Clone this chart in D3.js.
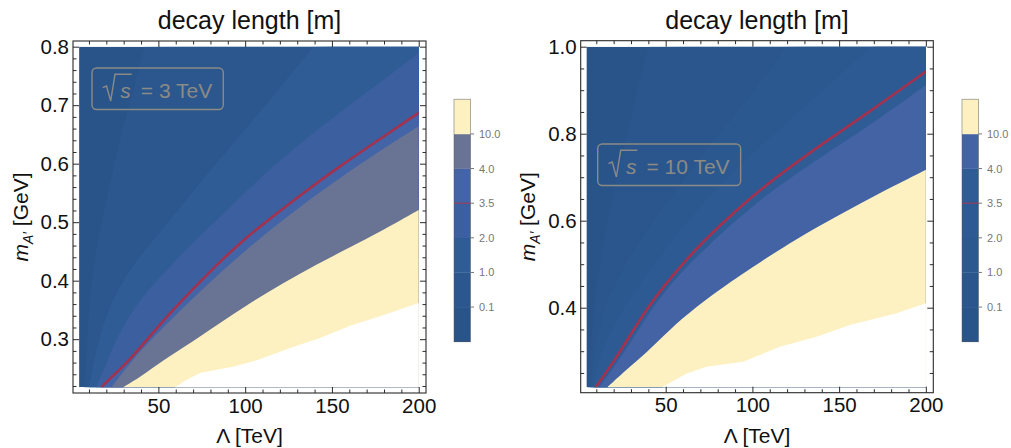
<!DOCTYPE html>
<html><head><meta charset="utf-8">
<script src="https://cdn.jsdelivr.net/npm/d3@7"></script>
<style>
body{margin:0;background:#fff}
svg{display:block}
text{font-family:"Liberation Sans",Arial,Helvetica,sans-serif}
</style>
</head><body>
<svg id="c" width="1011" height="448"></svg>
<script>
// ---------------- data ----------------
const levelLabels = ["0.1","1.0","2.0","3.5","4.0","10.0"];
const titleText = "decay length [m]";
const xLabelText = "Λ [TeV]";
const xTicks = [50,100,150,200];
const leftYTicks = [0.3,0.4,0.5,0.6,0.7,0.8];
const rightYTicks = [0.4,0.6,0.8,1.0];
const leftEnergy = "3 TeV";
const rightEnergy = "10 TeV";

// region colours, from lowest decay length (<0.1) to highest (>10)
const colorsLeft  = ["#29548a","#2b578e","#2f5c95","#3b5f9f","#4364a6","#697394","#fef1c1"];
const colorsRight = ["#29548a","#2a568d","#2c5890","#2e5a93","#305c96","#4363a5","#fef1c1"];

// contour boundaries [Lambda (TeV), m_A' (GeV)] -- sqrt(s) = 3 TeV
const left_b01 = [[7.5,0.218],[9.5,0.33],[12,0.42],[18,0.51],[26,0.62],[34,0.71],[42,0.80]];
const left_b1  = [[10,0.218],[14,0.28],[20,0.345],[32,0.415],[45,0.462],[60,0.515],[80,0.59],[103,0.668],[120,0.73],[139.5,0.80]];
const left_b2  = [[14,0.218],[19,0.25],[25,0.295],[33,0.34],[43,0.38],[54.5,0.418],[70,0.465],[84,0.505],[103,0.56],[130,0.632],[160,0.70],[185,0.755],[200,0.79]];
const left_red = [[17.5,0.218],[18.5,0.223],[29.7,0.2525],[43.5,0.299],[56.7,0.345],[72.3,0.393],[87.3,0.438],[102.8,0.479],[110.5,0.497],[131.6,0.546],[154.7,0.596],[177.7,0.642],[200,0.687]];
const left_b4  = [[23,0.218],[35,0.265],[50,0.312],[75,0.385],[100,0.452],[125,0.512],[150,0.566],[175,0.617],[200,0.664]];
const left_b10 = [[29.7,0.218],[39.5,0.235],[52.7,0.264],[68.3,0.293],[85.5,0.328],[102.8,0.362],[121.8,0.396],[141.4,0.428],[160.4,0.457],[179.4,0.486],[200,0.521]];
const left_edge= [[59.6,0.218],[65.4,0.229],[74,0.242],[93,0.253],[106.9,0.264],[125.9,0.285],[143.2,0.302],[160.5,0.323],[179.5,0.341],[200,0.362]];

// contour boundaries -- sqrt(s) = 10 TeV
const right_b01 = [[5,0.218],[7,0.33],[10,0.45],[15,0.57],[22,0.70],[30,0.84],[40,1.0]];
const right_b1  = [[6.5,0.218],[9,0.30],[13,0.38],[19.4,0.445],[29,0.515],[38.6,0.575],[52,0.648],[73,0.762],[98,0.882],[120,1.0]];
const right_b2  = [[8,0.218],[12,0.29],[19.4,0.354],[29,0.42],[38.6,0.474],[61.7,0.597],[84.8,0.698],[111.7,0.798],[138.5,0.89],[168,1.0]];
const right_red = [[9.8,0.218],[19.4,0.272],[29,0.333],[38.6,0.395],[50.2,0.456],[61.7,0.51],[73.2,0.558],[84.8,0.602],[98.2,0.65],[111.7,0.694],[138.5,0.772],[167.4,0.85],[200,0.943]];
const right_b4  = [[11.7,0.218],[20,0.262],[30,0.322],[40,0.385],[50,0.44],[62,0.494],[75,0.544],[85,0.582],[100,0.632],[112,0.671],[140,0.748],[168,0.82],[200,0.912]];
const right_b10 = [[16.6,0.218],[27.1,0.257],[38.6,0.295],[52.1,0.349],[67.5,0.402],[84.8,0.452],[100,0.493],[125,0.558],[150.1,0.613],[175,0.667],[200,0.717]];
const right_edge= [[48.4,0.218],[62.1,0.249],[73.6,0.264],[94.7,0.276],[115.9,0.31],[137,0.333],[156.2,0.36],[183.2,0.387],[200,0.41]];

const LAMBDA_MIN = 4.3, LAMBDA_MAX = 200;

// ---------------- drawing ----------------
const svg = d3.select("#c");
const FONT = '"Liberation Sans",Arial,Helvetica,sans-serif';

function drawPanel(cfg){
  const g = svg.append("g");
  const x = d3.scaleLinear().domain(cfg.xDomain).range([cfg.l, cfg.r]);
  const y = d3.scaleLinear().domain(cfg.yDomain).range([cfg.b, cfg.t]);
  const clipId = "clip" + cfg.id;
  g.append("clipPath").attr("id", clipId).append("rect")
    .attr("x", x(LAMBDA_MIN)).attr("y", y(cfg.mTop))
    .attr("width", x(LAMBDA_MAX) - x(LAMBDA_MIN))
    .attr("height", y(cfg.mMin) - y(cfg.mTop));
  const plot = g.append("g").attr("clip-path", `url(#${clipId})`);
  plot.append("rect")
    .attr("x", x(LAMBDA_MIN)).attr("y", y(cfg.mTop))
    .attr("width", x(LAMBDA_MAX) - x(LAMBDA_MIN))
    .attr("height", y(cfg.mMin) - y(cfg.mTop))
    .attr("fill", cfg.colors[0]);

  const smooth = d3.line().x(d => x(d[0])).y(d => y(d[1])).curve(d3.curveBasis);
  const straight = d3.line().x(d => x(d[0])).y(d => y(d[1]));
  const xR = x(LAMBDA_MAX) + 5, yT = y(cfg.mTop) - 5, yB = y(cfg.mMin) + 5;

  function regionPath(pts, lineGen){
    const first = pts[0], last = pts[pts.length - 1];
    const endsTop = last[1] >= cfg.mTop - 1e-9 && last[0] < LAMBDA_MAX;
    return lineGen(pts) +
      `L${xR},${endsTop ? yT : y(last[1])}L${xR},${yB}L${x(first[0])},${yB}Z`;
  }

  cfg.bounds.forEach((b, i) => {
    plot.append("path").attr("d", regionPath(b, smooth)).attr("fill", cfg.colors[i + 1]);
  });
  plot.append("path").attr("d", regionPath(cfg.edge, straight)).attr("fill", "#ffffff");
  plot.append("path").attr("d", smooth(cfg.red))
    .attr("fill", "none").attr("stroke", "#a3324f").attr("stroke-width", 2.6)
    .attr("stroke-linecap", "round");

  // frame
  g.append("rect").attr("x", cfg.l).attr("y", cfg.t)
    .attr("width", cfg.r - cfg.l).attr("height", cfg.b - cfg.t)
    .attr("fill", "none").attr("stroke", "#2a2a2a").attr("stroke-width", 1.1);

  const xMinor = d3.range(10, 201, 10).filter(v => v % 50 !== 0);
  const yMinor = cfg.yMinor;
  const styleAxis = sel => {
    sel.select(".domain").remove();
    sel.selectAll("line").attr("stroke", "#2a2a2a").attr("stroke-width", 1);
    sel.selectAll("text").attr("font-family", FONT).attr("font-size", 20.5).attr("fill", "#111");
  };
  // major ticks
  g.append("g").attr("transform", `translate(0,${cfg.b})`)
    .call(d3.axisBottom(x).tickValues(xTicks).tickSize(-6).tickPadding(5).tickFormat(d3.format("d")))
    .call(styleAxis);
  g.append("g").attr("transform", `translate(0,${cfg.t})`)
    .call(d3.axisTop(x).tickValues(xTicks).tickSize(-6).tickFormat(""))
    .call(styleAxis);
  g.append("g").attr("transform", `translate(${cfg.l},0)`)
    .call(d3.axisLeft(y).tickValues(cfg.yTicks).tickSize(-6).tickPadding(4).tickFormat(d3.format(".1f")))
    .call(styleAxis);
  g.append("g").attr("transform", `translate(${cfg.r},0)`)
    .call(d3.axisRight(y).tickValues(cfg.yTicks).tickSize(-6).tickFormat(""))
    .call(styleAxis);
  // minor ticks
  g.append("g").attr("transform", `translate(0,${cfg.b})`)
    .call(d3.axisBottom(x).tickValues(xMinor).tickSize(-3.5).tickFormat("")).call(styleAxis);
  g.append("g").attr("transform", `translate(0,${cfg.t})`)
    .call(d3.axisTop(x).tickValues(xMinor).tickSize(-3.5).tickFormat("")).call(styleAxis);
  g.append("g").attr("transform", `translate(${cfg.l},0)`)
    .call(d3.axisLeft(y).tickValues(yMinor).tickSize(-3.5).tickFormat("")).call(styleAxis);
  g.append("g").attr("transform", `translate(${cfg.r},0)`)
    .call(d3.axisRight(y).tickValues(yMinor).tickSize(-3.5).tickFormat("")).call(styleAxis);

  const cx = (cfg.l + cfg.r) / 2;
  // title
  g.append("text").attr("x", cx).attr("y", 29).attr("text-anchor", "middle")
    .attr("font-size", 25).attr("fill", "#111").text(titleText);
  // x label
  g.append("text").attr("x", cx).attr("y", 443).attr("text-anchor", "middle")
    .attr("font-size", 21).attr("fill", "#111").text(xLabelText);
  // y label
  const yl = g.append("text")
    .attr("transform", `translate(${cfg.yLabelX},${(cfg.t + cfg.b) / 2}) rotate(-90)`)
    .attr("text-anchor", "middle").attr("font-size", 21).attr("fill", "#111");
  yl.append("tspan").attr("font-style", "italic").text("m");
  yl.append("tspan").attr("font-style", "italic").attr("font-size", 14).attr("dy", 5).text("A′");
  yl.append("tspan").attr("dy", -5).text(" [GeV]");

  // legend box
  const bx = cfg.legend[0], by = cfg.legend[1];
  const lg = g.append("g");
  const col = "#8b8a84";
  lg.append("path")
    .attr("d", `M${bx+10.7},${by+19.7}L${bx+14.5},${by+18}L${bx+18.7},${by+33}L${bx+23},${by+6.3}L${bx+39.7},${by+6.3}`)
    .attr("fill", "none").attr("stroke", col).attr("stroke-width", 1.4).attr("stroke-linejoin", "miter");
  lg.append("text").attr("x", bx + 28.2).attr("y", by + 29.7).attr("font-size", 21)
    .attr("font-style", "italic").attr("fill", col).text("s");
  const t = lg.append("text").attr("x", bx + 43).attr("y", by + 29.7).attr("font-size", 21)
    .attr("fill", col).style("white-space", "pre").text(" = " + cfg.energy);
  const tl = t.node().getComputedTextLength();
  lg.insert("rect", ":first-child").attr("x", bx).attr("y", by)
    .attr("width", 43 + tl + 11).attr("height", 41.5).attr("rx", 4.5)
    .attr("fill", "none").attr("stroke", col).attr("stroke-width", 1.4);

  // colorbar
  const cb = g.append("g");
  const cy = d3.scaleLinear().domain([0, 7]).range([341.7, 99.3]);
  cfg.colors.forEach((c, k) => {
    cb.append("rect").attr("x", cfg.cbX).attr("y", cy(k + 1))
      .attr("width", 16.5).attr("height", cy(k) - cy(k + 1) + 0.3).attr("fill", c);
  });
  cb.append("rect").attr("x", cfg.cbX).attr("y", cy(7)).attr("width", 16.5)
    .attr("height", cy(0) - cy(7)).attr("fill", "none")
    .attr("stroke", "#5a5a5a").attr("stroke-opacity", 0.55).attr("stroke-width", 0.9);
  cb.append("line").attr("x1", cfg.cbX).attr("x2", cfg.cbX + 16.5)
    .attr("y1", cy(4)).attr("y2", cy(4)).attr("stroke", "#a3324f").attr("stroke-width", 1);
  levelLabels.forEach((lab, k) => {
    const yy = cy(k + 1);
    cb.append("line").attr("x1", cfg.cbX + 16.5).attr("x2", cfg.cbX + 20)
      .attr("y1", yy).attr("y2", yy).attr("stroke", "#777").attr("stroke-width", 1);
    cb.append("text").attr("x", cfg.cbX + 25).attr("y", yy).attr("dy", "0.36em")
      .attr("font-size", 11).attr("fill", "#777").text(lab);
  });
}

const minorLeftY = d3.range(22, 80, 2).filter(v => v % 10 !== 0).map(v => v / 100);
const minorRightY = d3.range(25, 100, 5).filter(v => v % 20 !== 0).map(v => v / 100);

drawPanel({
  id: "L", l: 73, r: 426, t: 41, b: 393,
  xDomain: [0.8, 204.2], yDomain: [0.208, 0.8097],
  mMin: 0.218, mTop: 0.8,
  colors: colorsLeft,
  bounds: [left_b01, left_b1, left_b2, left_red, left_b4, left_b10],
  edge: left_edge, red: left_red,
  yTicks: leftYTicks, yMinor: minorLeftY,
  yLabelX: 28, legend: [92, 68], energy: leftEnergy, cbX: 454
});
drawPanel({
  id: "R", l: 580.7, r: 933.3, t: 40.7, b: 392.7,
  xDomain: [1.0, 204.3], yDomain: [0.2046, 1.0138],
  mMin: 0.217, mTop: 1.0,
  colors: colorsRight,
  bounds: [right_b01, right_b1, right_b2, right_red, right_b4, right_b10],
  edge: right_edge, red: right_red,
  yTicks: rightYTicks, yMinor: minorRightY,
  yLabelX: 535, legend: [597.7, 144], energy: rightEnergy, cbX: 962
});
</script>
</body></html>
